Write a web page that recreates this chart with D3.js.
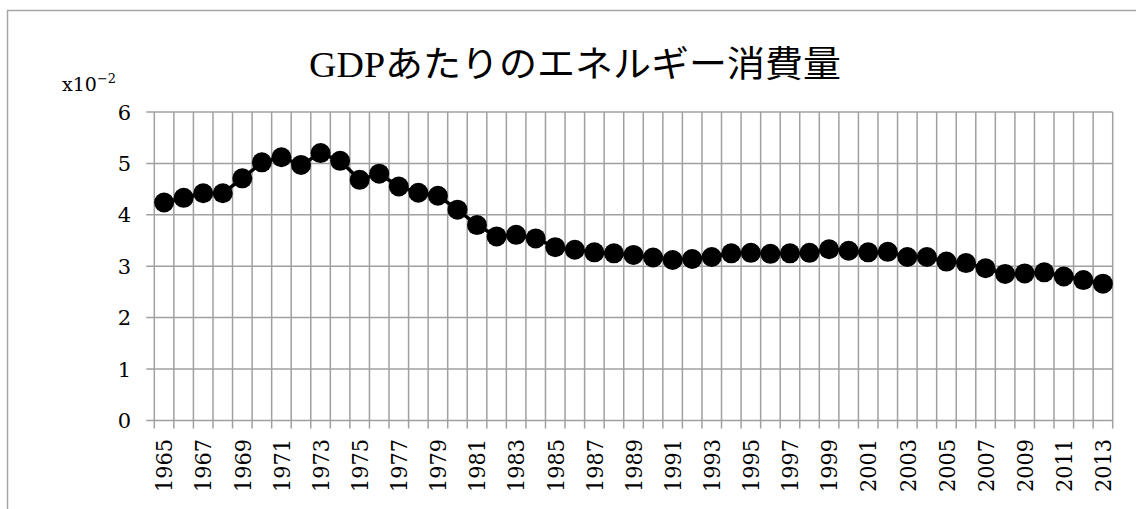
<!DOCTYPE html>
<html>
<head>
<meta charset="utf-8">
<script src="https://cdn.jsdelivr.net/npm/d3@7"></script>
<style>
  body { margin: 0; background: #fff; }
  text { font-family: "Liberation Serif", "Noto Sans CJK JP", serif; fill: #000; }
  .num { font-family: "DejaVu Serif", serif; }
</style>
</head>
<body>
<svg id="chart" width="1136" height="509"></svg>
<script>
// data (values in units of 10^-2)
var years = d3.range(1965, 2014);
var energy = [4.24, 4.33, 4.42, 4.42, 4.71, 5.02, 5.12, 4.97, 5.20, 5.05,
              4.68, 4.80, 4.55, 4.43, 4.37, 4.10, 3.80, 3.58, 3.61, 3.54,
              3.37, 3.32, 3.27, 3.25, 3.22, 3.17, 3.12, 3.14, 3.18, 3.25,
              3.26, 3.24, 3.25, 3.26, 3.33, 3.30, 3.27, 3.28, 3.18, 3.18,
              3.09, 3.06, 2.96, 2.85, 2.86, 2.88, 2.80, 2.73, 2.66];
var yTicks = [0, 1, 2, 3, 4, 5, 6];
var title = "GDPあたりのエネルギー消費量";

var svg = d3.select("#chart");
var plotL = 154.3, plotR = 1112.7, plotT = 112, plotB = 420.4;

// outer frame (runs off the right/bottom edge)
svg.append("rect")
  .attr("x", 7.5).attr("y", 10.5)
  .attr("width", 1200).attr("height", 600)
  .attr("fill", "none").attr("stroke", "#a6a6a6").attr("stroke-width", 1.5);

var x = d3.scaleBand().domain(years).range([plotL, plotR]).padding(0);
var y = d3.scaleLinear().domain([0, 6]).range([plotB, plotT]);

var grid = svg.append("g").attr("stroke", "#a0a0a0").attr("stroke-width", 1.5);

// horizontal grid + ticks to the left
grid.selectAll(".h").data(yTicks).enter().append("line")
  .attr("x1", plotL - 8).attr("x2", plotR)
  .attr("y1", d => y(d)).attr("y2", d => y(d));

// vertical grid at category boundaries
var bounds = years.map(d => x(d)).concat([plotR]);
grid.selectAll(".v").data(bounds).enter().append("line")
  .attr("x1", d => d).attr("x2", d => d)
  .attr("y1", plotT).attr("y2", plotB + 8);

// y labels
svg.selectAll(".yl").data(yTicks).enter().append("text")
  .attr("class", "num")
  .attr("x", 131).attr("y", d => y(d))
  .attr("dy", "0.36em")
  .attr("text-anchor", "end")
  .style("font-size", "21px")
  .text(d => d);

// x labels, every other year
svg.selectAll(".xl").data(years.filter((d, i) => i % 2 == 0)).enter().append("text")
  .attr("class", "num")
  .attr("transform", d => "translate(" + (x(d) + x.bandwidth() / 2) + "," + 439 + ") rotate(-90)")
  .attr("dy", "0.36em")
  .attr("text-anchor", "end")
  .attr("textLength", 53)
  .attr("lengthAdjust", "spacingAndGlyphs")
  .style("font-size", "23px")
  .text(d => d);

// unit label
var unit = svg.append("text").attr("class", "num").attr("x", 62).attr("y", 91).style("font-size", "19px");
unit.append("tspan").text("x10");
unit.append("tspan").attr("dy", -8).style("font-size", "13px").text("−2");

// title
svg.append("text")
  .attr("x", 575).attr("y", 77)
  .attr("text-anchor", "middle")
  .attr("textLength", 532)
  .attr("lengthAdjust", "spacingAndGlyphs")
  .style("font-size", "36px")
  .text(title);

// line + markers
var cx = d => x(d) + x.bandwidth() / 2;
var line = d3.line().x((d, i) => cx(years[i])).y(d => y(d));

svg.append("path").datum(energy)
  .attr("d", line)
  .attr("fill", "none").attr("stroke", "#000").attr("stroke-width", 3.5);

svg.selectAll(".dot").data(energy).enter().append("circle")
  .attr("cx", (d, i) => cx(years[i]))
  .attr("cy", d => y(d))
  .attr("r", 10)
  .attr("fill", "#000");
</script>
</body>
</html>
